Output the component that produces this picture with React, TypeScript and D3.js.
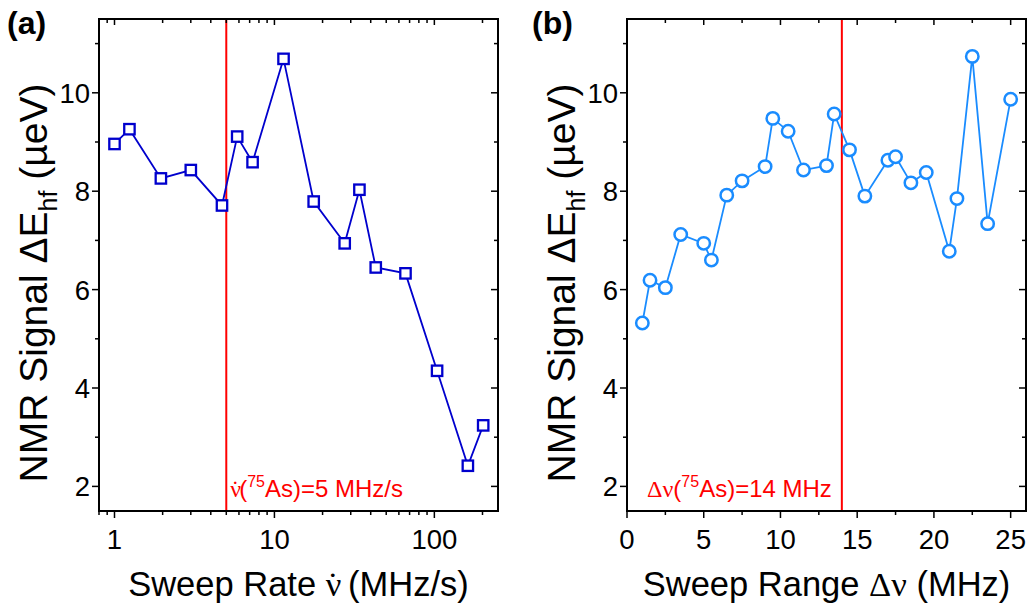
import React from "react";
import * as d3 from "d3";

const rateX = [1, 1.24, 1.95, 3, 4.7, 5.85, 7.3, 11.4, 17.6, 27.5, 34, 43, 66, 104, 162, 202];
const rateY = [8.96, 9.26, 8.26, 8.43, 7.71, 9.11, 8.59, 10.69, 7.79, 6.94, 8.03, 6.45, 6.33, 4.35, 2.42, 3.24];

const rangeX = [1, 1.5, 2.5, 3.5, 5, 5.5, 6.5, 7.5, 9, 9.5, 10.5, 11.5, 13, 13.5, 14.5, 15.5, 17, 17.5, 18.5, 19.5, 21, 21.5, 22.5, 23.5, 25];
const rangeY = [5.32, 6.19, 6.04, 7.12, 6.94, 6.6, 7.92, 8.21, 8.5, 9.48, 9.22, 8.43, 8.52, 9.57, 8.84, 7.9, 8.63, 8.7, 8.17, 8.38, 6.78, 7.85, 10.74, 7.34, 9.87];

const yMajor = [2, 4, 6, 8, 10];
const yMinor = [3, 5, 7, 9, 11];
const logMajor = [1, 10, 100];
const linMajor = [0, 5, 10, 15, 20, 25];
const rateMarker = 5;
const rangeMarker = 14;

const FONT = "'Liberation Sans', Arial, sans-serif";
const SERIF = "'Liberation Serif', serif";
const TOP = 19, BOTTOM = 511;

function logMinorTicks(): number[] {
  const out: number[] = [];
  for (const dec of [0.1, 1, 10, 100]) {
    for (let k = 2; k <= 9; k++) {
      const v = dec * k;
      if (v >= 0.8 && v <= 250) out.push(v);
    }
  }
  return out;
}

function YAxis({ left, right, y }: { left: number; right: number; y: d3.ScaleLinear<number, number> }) {
  return (
    <g>
      {yMajor.map((v) => (
        <g key={"M" + v}>
          <line x1={left - 7} x2={left} y1={y(v)} y2={y(v)} stroke="#000" strokeWidth={1.5} />
          <line x1={right - 7} x2={right} y1={y(v)} y2={y(v)} stroke="#000" strokeWidth={1.5} />
          <text x={left - 9} y={y(v)} dy="0.36em" textAnchor="end" fontSize={27.5} fontFamily={FONT}>{v}</text>
        </g>
      ))}
      {yMinor.map((v) => (
        <g key={"m" + v}>
          <line x1={left - 4} x2={left} y1={y(v)} y2={y(v)} stroke="#000" strokeWidth={1.5} />
          <line x1={right - 4} x2={right} y1={y(v)} y2={y(v)} stroke="#000" strokeWidth={1.5} />
        </g>
      ))}
    </g>
  );
}

function YLabel({ x, cy }: { x: number; cy: number }) {
  return (
    <text transform={`translate(${x},${cy}) rotate(-90)`} textAnchor="middle" fontSize={39} fontFamily={FONT}>
      NMR Signal ΔE<tspan fontSize={25} dy={10}>hf</tspan>
      <tspan dy={-10}> (µeV)</tspan>
    </text>
  );
}

// ν with a dot above, built from two glyphs
function NuDot({ size }: { size: number }) {
  const nu = 0.5 * size;
  const dot = 0.333 * size;
  return (
    <>
      <tspan fontFamily={SERIF}>ν</tspan>
      <tspan fontFamily={SERIF} dx={-(nu + dot) / 2}>˙</tspan>
      <tspan dx={(nu - dot) / 2}></tspan>
    </>
  );
}

export default function App() {
  const y = d3.scaleLinear().domain([1.5, 11.5]).range([BOTTOM, TOP]);

  const aL = 99, aR = 498;
  const xa = d3.scaleLog().domain([0.8, 250]).range([aL, aR]);
  const lineA = d3.line<number>().x((d, i) => xa(rateX[i])).y((d) => y(d));

  const bL = 627, bR = 1026;
  const xb = d3.scaleLinear().domain([0, 26]).range([bL, bR]);
  const lineB = d3.line<number>().x((d, i) => xb(rangeX[i])).y((d) => y(d));
  const linMinor = d3.range(2.5, 26, 5);

  const colA = "#0000CD";
  const colB = "#1A8CFF";
  const red = "#FF0000";
  const ann = 24;
  const lab = 34.5;
  const sq = 10.4;

  return (
    <div style={{ position: "absolute", left: 0, top: 0 }}>
      <svg width={1030} height={608} style={{ display: "block", background: "#fff" }}>
        {/* Panel (a) */}
        <text x={7} y={34} fontSize={32} fontWeight="bold" fontFamily={FONT}>(a)</text>
        <line x1={xa(rateMarker)} x2={xa(rateMarker)} y1={TOP} y2={BOTTOM} stroke={red} strokeWidth={2} />
        <path d={lineA(rateY) || ""} fill="none" stroke={colA} strokeWidth={1.8} />
        {rateY.map((v, i) => (
          <rect key={i} x={xa(rateX[i]) - sq / 2} y={y(v) - sq / 2} width={sq} height={sq} fill="#fff" stroke={colA} strokeWidth={2.3} />
        ))}
        <rect x={aL} y={TOP} width={aR - aL} height={BOTTOM - TOP} fill="none" stroke="#000" strokeWidth={2} />
        <YAxis left={aL} right={aR} y={y} />
        {logMajor.map((v) => (
          <g key={v}>
            <line x1={xa(v)} x2={xa(v)} y1={BOTTOM} y2={BOTTOM + 7} stroke="#000" strokeWidth={1.5} />
            <line x1={xa(v)} x2={xa(v)} y1={TOP} y2={TOP + 6} stroke="#000" strokeWidth={1.5} />
            <text x={xa(v)} y={549} textAnchor="middle" fontSize={27.5} fontFamily={FONT}>{v}</text>
          </g>
        ))}
        {logMinorTicks().map((v) => (
          <g key={"lm" + v}>
            <line x1={xa(v)} x2={xa(v)} y1={BOTTOM} y2={BOTTOM + 4} stroke="#000" strokeWidth={1.5} />
            <line x1={xa(v)} x2={xa(v)} y1={TOP} y2={TOP + 4} stroke="#000" strokeWidth={1.5} />
          </g>
        ))}
        <text x={xa(rateMarker) + 4} y={497} fontSize={ann} fill={red} fontFamily={FONT}>
          <NuDot size={ann} />(<tspan fontSize={16} dy={-10}>75</tspan><tspan dy={10}>As)=5 MHz/s</tspan>
        </text>
        <text x={(aL + aR) / 2} y={596} textAnchor="middle" fontSize={lab} fontFamily={FONT}>
          Sweep Rate <NuDot size={lab} /> (MHz/s)
        </text>
        <YLabel x={47} cy={283} />

        {/* Panel (b) */}
        <text x={532} y={34} fontSize={32} fontWeight="bold" fontFamily={FONT}>(b)</text>
        <line x1={xb(rangeMarker)} x2={xb(rangeMarker)} y1={TOP} y2={BOTTOM} stroke={red} strokeWidth={2} />
        <path d={lineB(rangeY) || ""} fill="none" stroke={colB} strokeWidth={1.8} />
        {rangeY.map((v, i) => (
          <circle key={i} cx={xb(rangeX[i])} cy={y(v)} r={6.2} fill="#fff" stroke={colB} strokeWidth={2.5} />
        ))}
        <rect x={bL} y={TOP} width={bR - bL} height={BOTTOM - TOP} fill="none" stroke="#000" strokeWidth={2} />
        <YAxis left={bL} right={bR} y={y} />
        {linMajor.map((v) => (
          <g key={v}>
            <line x1={xb(v)} x2={xb(v)} y1={BOTTOM} y2={BOTTOM + 7} stroke="#000" strokeWidth={1.5} />
            <line x1={xb(v)} x2={xb(v)} y1={TOP} y2={TOP + 6} stroke="#000" strokeWidth={1.5} />
            <text x={xb(v)} y={549} textAnchor="middle" fontSize={27.5} fontFamily={FONT}>{v}</text>
          </g>
        ))}
        {linMinor.map((v) => (
          <g key={"bm" + v}>
            <line x1={xb(v)} x2={xb(v)} y1={BOTTOM} y2={BOTTOM + 4} stroke="#000" strokeWidth={1.5} />
            <line x1={xb(v)} x2={xb(v)} y1={TOP} y2={TOP + 4} stroke="#000" strokeWidth={1.5} />
          </g>
        ))}
        <text x={xb(rangeMarker) - 10} y={497} textAnchor="end" fontSize={ann} fill={red} fontFamily={FONT}>
          <tspan fontFamily={SERIF}>Δν</tspan>(<tspan fontSize={16} dy={-10}>75</tspan><tspan dy={10}>As)=14 MHz</tspan>
        </text>
        <text x={(bL + bR) / 2} y={596} textAnchor="middle" fontSize={lab} fontFamily={FONT}>
          Sweep Range <tspan fontFamily={SERIF}>Δν</tspan> (MHz)
        </text>
        <YLabel x={575} cy={283} />
      </svg>
    </div>
  );
}
